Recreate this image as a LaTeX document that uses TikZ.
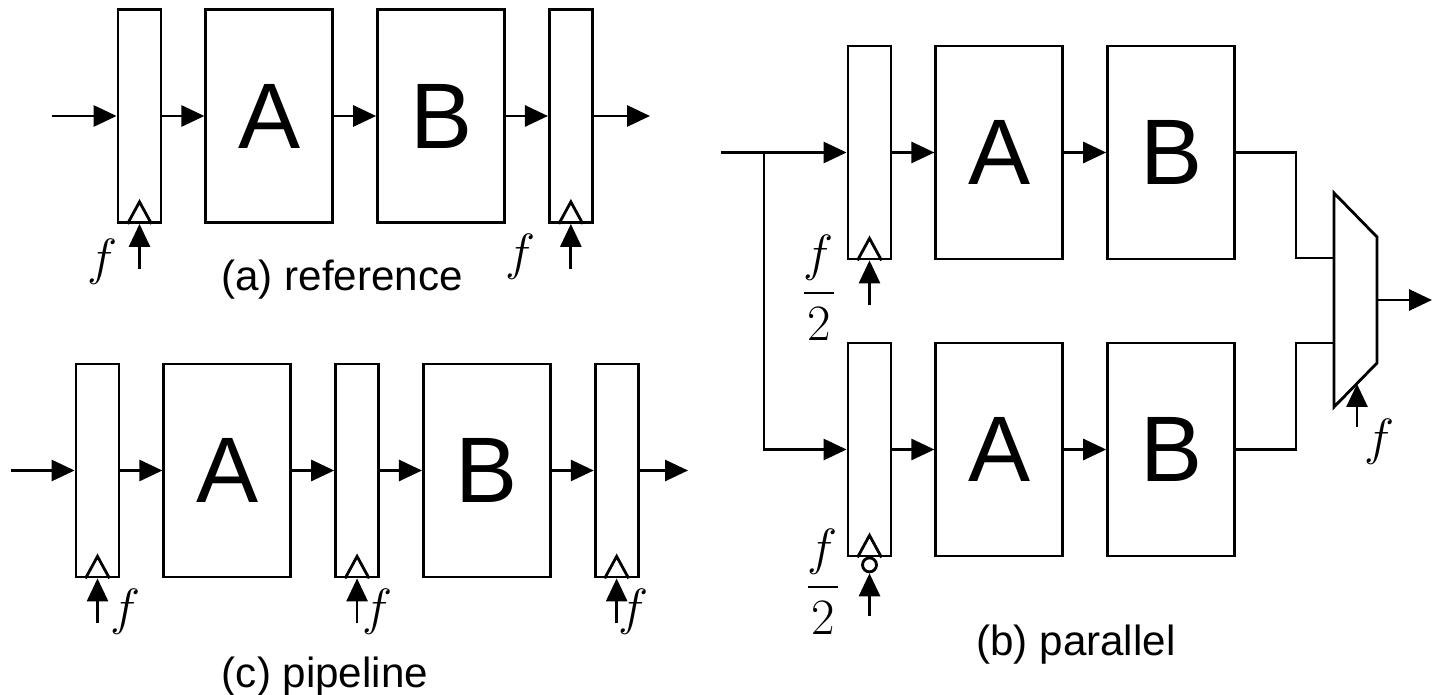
\RequirePackage{fix-cm}
\documentclass[tikz,border=0pt]{standalone}
\usepackage{amsmath}
\usepackage{fontspec}
\setmainfont{Liberation Sans}
\usetikzlibrary{arrows.meta,positioning,calc}
\newcommand\fclk{$f$}
\newcommand\fhalf{$\dfrac{f}{2}$}
\tikzset{
  reg/.style={draw,minimum width=0.86cm,minimum height=4.26cm,inner sep=0pt},
  blk/.style={reg,minimum width=2.54cm,font=\fontsize{53}{53}\selectfont},
  arr/.style={-{Triangle[length=0.46cm,width=0.42cm]}},
  lbl/.style={inner sep=0pt,font=\fontsize{29}{31}\selectfont},
  captxt/.style={inner sep=0pt,font=\fontsize{24}{26}\selectfont}
}
% clock input at the foot of a register
\newcommand\clockin[2]{%
  \draw ($(#1.south)+(-12,0)$) -- ++(12,-22) -- ++(12,22);
  \coordinate (#2) at ($(#1.south)+(0,45)$);
  \draw[arr] (#2) -- (#1.south);}
\begin{document}
\begin{tikzpicture}[x=0.02cm,y=-0.02cm,node distance=0.84cm,line width=1.6pt]
  \useasboundingbox (0,0) rectangle (1433,695);

  % (a) reference
  \node[reg] (ra1) at (139.5,116) {};
  \node[blk,right=of ra1] (aa) {A};
  \node[blk,right=of aa] (ab) {B};
  \node[reg,right=of ab] (ra2) {};
  \coordinate (ain) at (52,116);
  \coordinate (aout) at (650,116);
  \draw[arr] (ain) -- (ra1);
  \draw[arr] (ra1) -- (aa);
  \draw[arr] (aa) -- (ab);
  \draw[arr] (ab) -- (ra2);
  \draw[arr] (ra2) -- (aout);
  \clockin{ra1}{ca1}
  \clockin{ra2}{ca2}
  \node[lbl] (fa1) at (103,262) {\fclk};
  \node[lbl] (fa2) at (521,257) {\fclk};
  \node[captxt] (capa) at (342,280) {(a) reference};

  % (c) pipeline
  \node[reg] (rc1) at (97.5,470.5) {};
  \node[blk,right=of rc1] (ca) {A};
  \node[reg,right=of ca] (rc2) {};
  \node[blk,right=of rc2] (cb) {B};
  \node[reg,right=of cb] (rc3) {};
  \coordinate (cin) at (11,470.5);
  \coordinate (cout) at (688,470.5);
  \draw[arr] (cin) -- (rc1);
  \draw[arr] (rc1) -- (ca);
  \draw[arr] (ca) -- (rc2);
  \draw[arr] (rc2) -- (cb);
  \draw[arr] (cb) -- (rc3);
  \draw[arr] (rc3) -- (cout);
  \clockin{rc1}{cc1}
  \clockin{rc2}{cc2}
  \clockin{rc3}{cc3}
  \node[lbl] (fc1) at (126,612) {\fclk};
  \node[lbl] (fc2) at (378,612) {\fclk};
  \node[lbl] (fc3) at (634,612) {\fclk};
  \node[captxt] (capc) at (325,677) {(c) pipeline};

  % (b) parallel
  \node[reg] (rb1) at (869.5,152.5) {};
  \node[blk,right=of rb1] (ba1) {A};
  \node[blk,right=of ba1] (bb1) {B};
  \node[reg] (rb2) at (869.5,449.5) {};
  \node[blk,right=of rb2] (ba2) {A};
  \node[blk,right=of ba2] (bb2) {B};
  \coordinate (bin) at (721,152.5);
  \coordinate (bsplit) at (764,152.5);
  \draw[arr] (bin) -- (rb1);
  \draw[arr] (bsplit) |- (rb2);
  \draw[arr] (rb1) -- (ba1);
  \draw[arr] (ba1) -- (bb1);
  \draw[arr] (rb2) -- (ba2);
  \draw[arr] (ba2) -- (bb2);
  \clockin{rb1}{cb1}
  % inverted clock on the lower register
  \draw ($(rb2.south)+(-12,0)$) -- ++(12,-22) -- ++(12,22);
  \node[draw,circle,inner sep=0pt,minimum size=0.28cm] (bub) at ($(rb2.south)+(0,7.5)$) {};
  \coordinate (cb2) at ($(bub.south)+(0,43)$);
  \draw[arr] (cb2) -- (bub.south);
  \node[lbl] (fb1) at (819,288) {\fhalf};
  \node[lbl] (fb2) at (823,582) {\fhalf};

  % multiplexer
  \draw (1334,193) -- (1377,237) -- (1377,363) -- (1334,407) -- cycle;
  \coordinate (mux-in1) at (1334,258);
  \coordinate (mux-in2) at (1334,343);
  \coordinate (mux-out) at (1377,300);
  \coordinate (mux-clk) at (1357,384);
  \coordinate (bout) at (1432,300);
  \coordinate (cbm) at (1357,427);
  \draw (bb1.east) -- ++(60,0) |- (mux-in1);
  \draw (bb2.east) -- ++(60,0) |- (mux-in2);
  \draw[arr] (mux-out) -- (bout);
  \draw[arr] (cbm) -- (mux-clk);
  \node[lbl] (fm) at (1379,442) {\fclk};
  \node[captxt] (capb) at (1076,645) {(b) parallel};
\end{tikzpicture}
\end{document}
